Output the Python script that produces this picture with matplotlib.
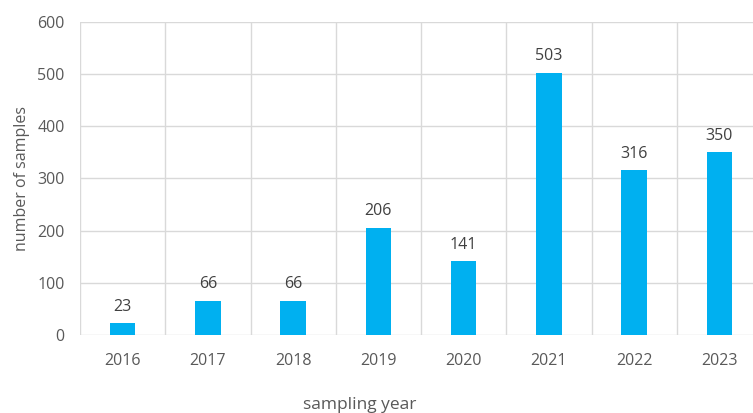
import matplotlib.pyplot as plt

# samples collected per year
years = ['2016', '2017', '2018', '2019', '2020', '2021', '2022', '2023']
samples = [23, 66, 66, 206, 141, 503, 316, 350]

plt.rcParams['font.family'] = ['Open Sans', 'DejaVu Sans']
text_color = '#595959'
grid_color = '#d9d9d9'

fig = plt.figure(figsize=(7.53, 4.13), dpi=100)
# plot area runs a little past the right edge of the figure
ax = fig.add_axes([80 / 753, 78 / 413, 682 / 753, 313 / 413])

x = range(len(years))
bars = ax.bar(x, samples, width=0.3, color='#00b0f0', zorder=3)

for rect, v in zip(bars, samples):
    ax.annotate(str(v), (rect.get_x() + rect.get_width() / 2, v),
                xytext=(0, 6), textcoords='offset points',
                ha='center', va='bottom', fontsize=11.5, color='#404040')

ax.set_xlim(-0.5, len(years) - 0.5)
ax.set_ylim(0, 600)
ax.set_yticks(range(0, 601, 100))
ax.set_xticks(list(x))
ax.set_xticklabels(years)

# category boundaries as vertical grid lines
for b in [i - 0.5 for i in range(len(years) + 1)]:
    ax.axvline(b, color=grid_color, lw=1, zorder=1)
ax.yaxis.grid(True, color=grid_color, lw=1, zorder=1)
ax.set_axisbelow(True)

for s in ax.spines.values():
    s.set_visible(False)
ax.tick_params(axis='x', length=0, labelsize=11.5, colors=text_color, pad=13)
ax.tick_params(axis='y', length=0, labelsize=11.5, colors=text_color, pad=11)

ax.set_ylabel('number of samples', fontsize=11.5, color=text_color, labelpad=5)
fig.text(360 / 753, 1 - 405 / 413, 'sampling year', ha='center', va='center',
         fontsize=12.5, color=text_color)

fig.savefig('out.png', dpi=100)
